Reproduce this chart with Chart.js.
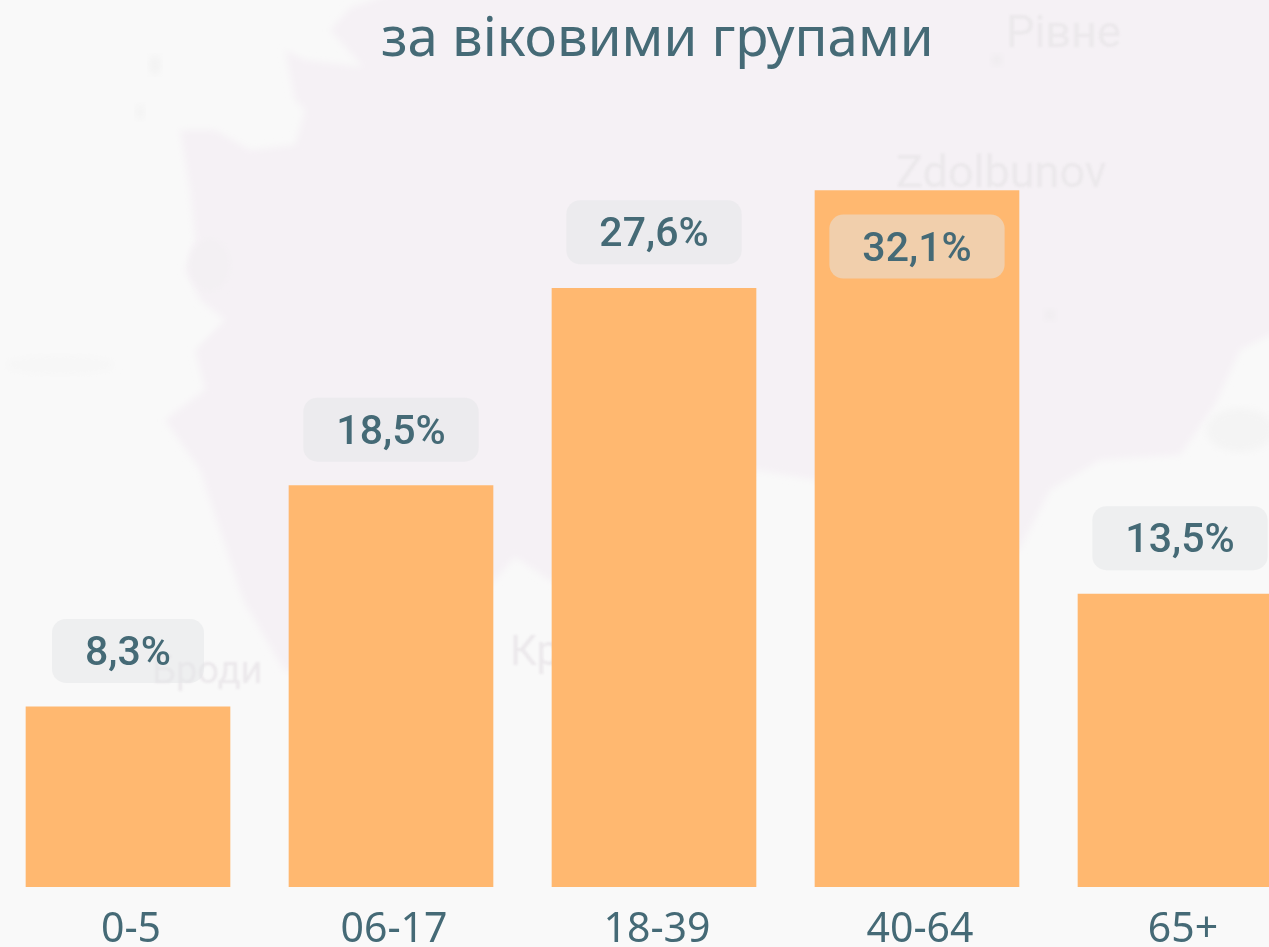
<!DOCTYPE html>
<html lang="uk">
<head>
<meta charset="utf-8">
<title>за віковими групами</title>
<script src="https://cdn.jsdelivr.net/npm/chart.js@4"></script>
<style>
    html, body { margin: 0; height: 100%; overflow: hidden; background: #f9f9f9; }
    #page { position: relative; width: 1269px; height: 947px; overflow: hidden; }
    #map { position: absolute; left: 0; top: 0; }
    .place { position: absolute; font-family: Roboto, sans-serif; line-height: 1; color: #ebe8eb; filter: blur(1px); }
    #chartCanvas { position: absolute; left: -4px; top: 0; }
</style>
</head>
<body>
<div id="page">
    <!-- фон: бліда карта -->
    <svg id="map" width="1269" height="947">
        <defs><filter id="soft"><feGaussianBlur stdDeviation="3.5"/></filter></defs>
        <polygon filter="url(#soft)" fill="#f5f1f5" points="400,-10 1290,-10 1290,325 1240,350 1215,405 1180,455 1100,460 1050,490 1019,550 1000,560 815,480 756,470 600,560 552,582 515,557 493,582 400,640 285,672 243,600 200,470 165,420 205,390 195,350 225,320 200,300 185,270 195,240 190,190 180,130 215,130 250,150 295,145 305,110 295,100 285,50 305,60 363,67 330,30 350,8"/>
        <circle cx="997" cy="60" r="6" fill="#efecef" filter="url(#soft)"/>
        <ellipse cx="1240" cy="430" rx="34" ry="22" fill="#f4f4f4" filter="url(#soft)"/>
        <ellipse cx="155" cy="65" rx="6" ry="10" fill="#f3f3f3" filter="url(#soft)"/>
        <ellipse cx="140" cy="112" rx="5" ry="8" fill="#f4f4f4" filter="url(#soft)"/>
        <ellipse cx="210" cy="265" rx="20" ry="26" fill="#f3f0f3" filter="url(#soft)"/>
        <ellipse cx="60" cy="365" rx="55" ry="10" fill="#f7f7f7" filter="url(#soft)"/>
        <ellipse cx="1050" cy="315" rx="6" ry="6" fill="#f0edf0" filter="url(#soft)"/>
    </svg>
    <div class="place" style="left:1006px;top:9px;font-size:45px">Рівне</div>
    <div class="place" style="left:896px;top:149px;font-size:45px">Zdolbunov</div>
    <div class="place" style="left:152px;top:651px;font-size:38px">Броди</div>
    <div class="place" style="left:510px;top:630px;font-size:42px">Кр</div>
    <canvas id="chartCanvas" width="1322" height="947"></canvas>
</div>
<script>
    // Дані діаграми
    const categories = ['0-5', '06-17', '18-39', '40-64', '65+'];
    const shares = [8.3, 18.5, 27.6, 32.1, 13.5];

    const textColor = '#456a76';
    const barColor = '#ffb870';

    // Підписи значень у заокруглених плашках
    const valueBadges = {
        id: 'valueBadges',
        afterDatasetsDraw(chart) {
            const ctx = chart.ctx;
            const boxH = 64, gap = 24, padX = 33;
            ctx.save();
            ctx.font = '500 41px Roboto';
            ctx.textAlign = 'center';
            ctx.textBaseline = 'middle';
            chart.getDatasetMeta(0).data.forEach((bar, i) => {
                const label = shares[i].toFixed(1).replace('.', ',') + '%';
                const boxW = ctx.measureText(label).width + padX * 2;
                let top = bar.y - gap - boxH;
                // якщо плашка не вміщується над стовпчиком, кладемо її всередину
                if (top < chart.chartArea.top) top = bar.y + gap;
                ctx.fillStyle = 'rgba(228, 229, 232, 0.5)';
                ctx.beginPath();
                ctx.roundRect(bar.x - boxW / 2, top, boxW, boxH, 14);
                ctx.fill();
                ctx.fillStyle = textColor;
                ctx.fillText(label, bar.x, top + boxH / 2 + 4);
            });
            ctx.restore();
        }
    };

    new Chart(document.getElementById('chartCanvas'), {
        type: 'bar',
        data: {
            labels: categories,
            datasets: [{
                data: shares,
                backgroundColor: barColor,
                barThickness: 204
            }]
        },
        options: {
            responsive: false,
            animation: false,
            layout: { padding: { left: 0.5 } },
            plugins: {
                legend: { display: false },
                tooltip: { enabled: false },
                title: {
                    display: true,
                    text: 'за віковими групами',
                    color: textColor,
                    font: { family: 'Noto Sans', size: 54.5, weight: 'normal', lineHeight: 1.2 },
                    padding: { top: 8, bottom: 32.6 }
                }
            },
            scales: {
                x: {
                    grid: { display: false, drawTicks: false },
                    border: { display: false },
                    ticks: { color: textColor, font: { family: 'Noto Sans', size: 41 }, padding: 19, labelOffset: 3, maxRotation: 0 },
                    afterFit(scale) { scale.height = 60; }
                },
                y: {
                    position: 'right',
                    min: 0,
                    max: 36,
                    grid: { display: false },
                    border: { display: false },
                    ticks: { display: false },
                    afterFit(scale) { scale.width = 6.5; }
                }
            }
        },
        plugins: [valueBadges]
    });
</script>
</body>
</html>
